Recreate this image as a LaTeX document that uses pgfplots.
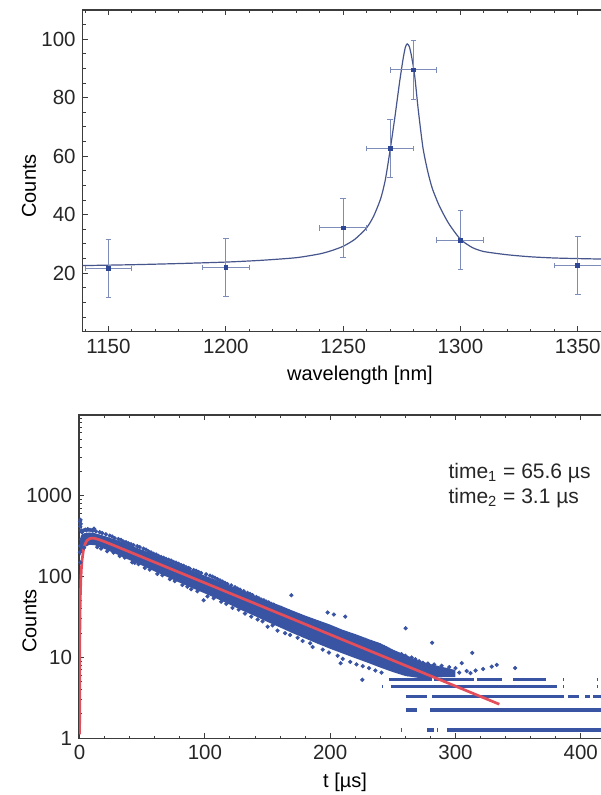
\documentclass[border=0pt]{standalone}
\usepackage{fontspec}
\setmainfont{Liberation Sans}
\usepackage{pgfplots}
\pgfplotsset{compat=1.18}

\definecolor{frame}{RGB}{60,60,60}
\definecolor{ptblue}{RGB}{45,70,150}
\definecolor{ebblue}{RGB}{125,140,185}
\definecolor{fitblue}{RGB}{70,85,140}
\definecolor{dotblue}{RGB}{58,84,164}
\definecolor{fitred}{RGB}{228,78,90}

\pgfplotsset{
  mmaframe/.style={
    scale only axis,
    axis line style={frame, line width=0.6pt},
    tick align=inside,
    tick pos=both, xticklabel pos=lower, yticklabel pos=left,
    major tick length=2.6pt, minor tick length=1.4pt,
    tick style={frame, line width=0.5pt},
    tick label style={font=\fontsize{10.25}{12}\selectfont, text=black!85},
    /pgf/number format/assume math mode=true,
    /pgf/number format/1000 sep={},
    label style={font=\fontsize{12.8}{15}\selectfont, text=black!85},
  }
}

\begin{document}
\begin{tikzpicture}

% top: emission peak with Lorentz fit
\begin{axis}[mmaframe,
  at={(41.35pt,231.65pt)}, anchor=south west,
  width=261.6pt, height=160.85pt,
  xmin=1139, xmax=1362, ymin=0, ymax=110,
  xtick={1150,1200,...,1350}, minor xtick={1140,1150,...,1360},
  ytick={20,40,...,100}, minor ytick={5,10,...,105},
  xlabel={wavelength [nm]}, ylabel={Counts},
  every axis x label/.style={at={(axis description cs:0.530,-0.1517)}, anchor=base},
  every axis y label/.style={at={(axis description cs:-0.0893,0.453)}, anchor=base, rotate=90},
]
\addplot[fitblue, line width=0.6pt, smooth, tension=0.4] coordinates {
  (1139,22.6) (1160,22.9) (1180,23.3) (1200,23.8) (1215,24.4) (1230,25.3)
  (1240,26.6) (1245,27.7) (1250,29.2) (1255,31.6) (1260,35.5) (1263,39.5)
  (1266,45.5) (1268,52) (1270,62) (1272,73) (1274,85) (1275.5,93)
  (1276.5,97.2) (1277.3,98.4) (1278.2,97.5) (1279.2,94) (1280.5,87.5)
  (1282,76) (1284,63) (1286,55) (1288,49) (1291,43) (1295,37) (1300,31.6)
  (1305,28.8) (1310,27.4) (1320,26.3) (1330,25.6) (1340,25.2) (1350,25.0)
  (1362,24.8)
};
\addplot[only marks, mark=square*, mark size=0.95pt, ptblue,
  error bars/.cd, x dir=both, x explicit, y dir=both, y explicit,
  error bar style={ebblue, line width=0.5pt},
  error mark options={ebblue, line width=0.5pt, mark size=1.4pt, rotate=90}]
  coordinates {
  (1150,21.6) +- (10,10)
  (1200,22.0) +- (10,10)
  (1250,35.5) +- (10,10)
  (1270,62.6) +- (10,10)
  (1280,89.5) +- (10,10)
  (1300,31.3) +- (10,10)
  (1350,22.7) +- (10,10)
};
\end{axis}

% bottom: luminescence decay
\begin{axis}[mmaframe,
  at={(39.5pt,28.35pt)}, anchor=south west,
  width=263.4pt, height=161.65pt,
  ymode=log, log basis y=10,
  xmin=-0.5, xmax=420, ymin=1, ymax=10000,
  xtick={0,100,...,400}, minor xtick={0,20,...,420},
  ytick={1,10,100,1000}, yticklabels={1,10,100,1000},
  minor ytick={2,3,...,9,20,30,...,90,200,300,...,900,2000,3000,...,9000},
  xlabel={t [µs]}, ylabel={Counts},
  every axis x label/.style={at={(axis description cs:0.505,-0.1537)}, anchor=base},
  every axis y label/.style={at={(axis description cs:-0.0808,0.363)}, anchor=base, rotate=90},
]
% dense core of the measured points
\addplot[draw=none, fill=dotblue] coordinates {
  (0.3,280) (1,320) (2,335) (4,345) (8,352) (12,345) (16,332) (20,318)
  (30,282) (40,246) (50,214) (60,185) (70,159) (80,137) (90,119) (100,103)
  (110,89) (120,77) (130,67) (140,58) (150,50) (160,44) (170,38) (180,33)
  (190,29) (200,25.5) (210,22) (220,19.5) (230,17) (240,15) (250,12.5)
  (260,10.8) (270,9.2) (280,8.3) (290,7.6) (300,7.0)
  (300,5.7) (290,5.7) (280,5.6) (270,5.6) (260,5.9) (250,6.6) (240,7.5)
  (230,8.6) (220,9.8) (210,11.2) (200,12.8) (190,14.8) (180,17.2) (170,20)
  (160,23.5) (150,27.5) (140,32.5) (130,38) (120,45) (110,53) (100,62)
  (90,72) (80,84) (70,99) (60,116) (50,137) (40,160) (30,188) (20,220)
  (16,233) (12,245) (8,248) (4,232) (2,210) (1,190) (0.3,180)
} -- cycle;
% scattered points
\addplot[only marks, mark=*, mark size=0.85pt, dotblue] table {
t y
0.2 200
0.3 480
0.5 420
0.7 505
0.9 450
1.1 375
0.4 240
0.6 150
1.3 290
1.8 355
2.4 368
3.0 372
3.5 228
4.5 382
5.5 375
6.5 388
7.5 380
9.0 378
10.5 370
11.5 392
13.0 365
14.0 232
16.0 355
17.0 222
18.0 346
21.0 335
22.0 206
24.0 322
26.0 314
27.0 198
28.0 300
31.0 292
32.0 180
33.0 285
35.0 272
36.0 172
37.0 268
39.0 258
41.0 252
42.0 150
43.0 246
44.0 148
46.0 238
47.0 143
48.0 232
51.0 222
52.0 128
53.0 216
55.0 205
56.0 122
57.0 200
59.0 192
61.0 188
62.0 108
63.0 181
65.0 175
66.0 104
67.0 171
69.0 166
71.0 162
72.0 93
73.0 158
75.0 152
76.0 88
77.0 149
79.0 144
81.0 139
82.0 79
83.0 136
85.0 131
86.0 75
87.0 128
88.0 125
89.0 70
91.0 121
93.0 118
94.0 66
95.0 114
97.0 111
99.0 51
101.0 107
102.0 57
104.0 103
106.0 100
107.0 54
108.0 97
110.0 93
112.0 90
113.0 49
114.0 87
116.0 84
117.0 46
118.0 81
121.0 78
122.0 41
124.0 74
126.0 71
127.0 39
128.0 69
131.0 66
132.0 35
134.0 63
136.0 61
137.0 32
138.0 59
141.0 56
142.0 29.5
143.0 54
145.0 52
146.0 28
147.0 51
149.0 49
150.0 24
151.0 48
153.0 46
154.0 25
155.0 45
157.0 43
158.0 21.5
161.0 41
163.0 39
164.0 20
165.0 38
167.0 37
168.0 19
169.0 59
171.0 35
173.0 33
174.0 17.5
175.0 32
177.0 31
178.0 16
179.0 30
181.0 29
183.0 28
184.0 15
185.0 27
186.0 13.5
189.0 26
191.0 25
193.0 24
194.0 12.5
195.0 23.5
197.0 23
198.0 36
199.0 11.5
201.0 22.5
203.0 34
204.0 21.5
206.0 10.5
207.0 21
208.3 8.5
209.0 20.5
210.0 9.6
212.0 32
213.0 19.5
215.0 19
216.0 8.8
218.0 18.5
220.0 18
221.0 8.2
223.0 17.5
225.0 17
225.6 5.3
226.0 7.8
228.0 16.5
230.0 16
231.0 7.4
233.0 15.5
235.0 15
236.0 6.9
238.0 14.5
240.0 14
241.0 6.5
243.0 13.5
245.0 13
247.0 12.5
249.0 12
251.0 11.5
257.0 11
260.0 10.5
260.2 23
262.0 6.2
265.0 10
268.0 9.5
271.0 9
274.0 8.6
278.0 8.4
280.0 7.6
281.4 15.2
283.0 8.2
286.0 7.4
289.0 7.9
292.0 7.0
295.0 7.6
298.0 6.6
300.0 7.4
303.0 6.5
305.0 8.5
309.0 6.8
312.0 6.4
313.4 11.4
316.0 6.9
322.0 7.2
328.9 7.7
333.0 8.1
347.6 7.4
};
% quantised low-count levels
\addplot[dotblue, line width=1.7pt, unbounded coords=jump] coordinates {
  (246.8,5.36) (281.4,5.36) (282,nan) (282.7,5.36) (314.6,5.36) (315,nan)
  (317.4,5.36) (337.1,5.36) (338,nan) (346.3,5.36) (372.6,5.36) (373,nan)
  (386.1,5.36) (386.9,5.36) (387,nan) (412.7,5.36) (413.5,5.36) (414,nan)
  (241.6,4.34) (242.4,4.34) (243,nan) (248.2,4.34) (381.0,4.34) (382,nan)
  (386.1,4.34) (386.9,4.34) (387,nan) (412.7,4.34) (413.5,4.34) (414,nan)
  (260.2,3.27) (277.4,3.27) (278,nan) (281.4,3.27) (386.5,3.27) (387,nan)
  (390.2,3.27) (399.0,3.27) (400,nan) (403.5,3.27) (407.6,3.27) (408,nan)
  (410.1,3.27) (420,3.27) (421,nan)
  (260.2,2.24) (269.5,2.24) (270,nan) (279.9,2.24) (420,2.24) (421,nan)
  (256.2,1.27) (257.0,1.27) (258,nan) (277.4,1.27) (282.8,1.27) (283,nan)
  (285.5,1.27) (286.3,1.27) (287,nan) (293.5,1.27) (420,1.27)
};
% biexponential fit
\addplot[fitred, line width=1.35pt] coordinates {
  (0.01,1.12) (0.05,5.56) (0.1,11.0) (0.25,26.9) (0.5,51.6) (1,95.1)
  (1.5,131.7) (2,162.5) (3,210.0) (4,243.0) (5,265.6) (6,280.7) (8,296.0)
  (10,299.8) (12,297.5) (15,289.1) (20,270.7) (30,234.2) (40,202.1)
  (50,174.5) (60,150.6) (80,112.2) (100,83.6) (125,57.9) (150,40.1)
  (175,27.8) (200,19.2) (225,13.3) (250,9.22) (275,6.38) (300,4.42)
  (320,3.29) (335,2.64)
};
\node[anchor=base west, font=\fontsize{10.5}{12}\selectfont, text=black!85]
  at (rel axis cs:0.688,0.804) {time\textsubscript{1} = 65.6 µs};
\node[anchor=base west, font=\fontsize{10.5}{12}\selectfont, text=black!85]
  at (rel axis cs:0.688,0.727) {time\textsubscript{2} = 3.1 µs};
\end{axis}

\pgfresetboundingbox
\useasboundingbox (0,0) rectangle (300pt,397.5pt);
\end{tikzpicture}
\end{document}
